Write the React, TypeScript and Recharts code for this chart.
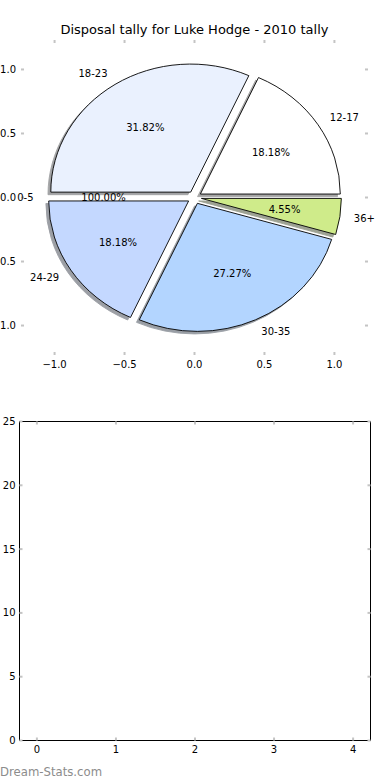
import React from 'react'
import { PieChart, Pie, ScatterChart, Scatter, XAxis, YAxis } from 'recharts'

const AGE_GROUPS = ['12-17', '18-23', '0-5', '24-29', '30-35', '36+']
const DISPOSALS = [4, 7, 0, 4, 6, 1]
const PCT_TEXT = ['18.18%', '31.82%', '100.00%', '18.18%', '27.27%', '4.55%']
const SLICE_COLORS = ['#ffffff', '#eaf1fe', '#dde8fd', '#c4d8ff', '#b3d5ff', '#cfeb8a']

const PIE_TICKS = [-1, -0.5, 0, 0.5, 1]
const SLOT_TICKS = [0, 1, 2, 3, 4]
const COUNT_TICKS = [0, 5, 10, 15, 20, 25]
// the lower panel has nothing plotted in it
const LOWER_POINTS: { x: number; y: number }[] = []

const FONT = '"DejaVu Sans", sans-serif'
const TICK_LINE = { stroke: '#c4c4c4', strokeWidth: 2 }
const TICK_TEXT = { fill: '#000', fontSize: 10, fontFamily: FONT }

// top (pie) axes box, in px
const BOX = { left: 21, top: 40, right: 368, bottom: 355 }
const XLIM = 1.24
const YLIM = 1.23
const RX = (BOX.right - BOX.left) / (2 * XLIM)
const RY = (BOX.bottom - BOX.top) / (2 * YLIM)
const CX = (BOX.left + BOX.right) / 2
const CY = (BOX.top + BOX.bottom) / 2
const EXPLODE = 0.05
const RAD = Math.PI / 180
const AX_H = 20

const pieData = AGE_GROUPS.map((name, i) => ({
  name,
  value: DISPOSALS[i],
  pct: PCT_TEXT[i],
  fill: SLICE_COLORS[i],
}))

const fmtPie = (v: number) => v.toFixed(1).replace('-', '\u2212')

function wedgePath(cx: number, cy: number, rx: number, ry: number, a0: number, a1: number) {
  const x0 = cx + rx * Math.cos(a0 * RAD)
  const y0 = cy - ry * Math.sin(a0 * RAD)
  const x1 = cx + rx * Math.cos(a1 * RAD)
  const y1 = cy - ry * Math.sin(a1 * RAD)
  const large = a1 - a0 > 180 ? 1 : 0
  return `M${cx},${cy} L${x0},${y0} A${rx},${ry} 0 ${large} 0 ${x1},${y1} Z`
}

function shift(props: any) {
  const rx = props.outerRadius
  const ry = (props.outerRadius * RY) / RX
  const mid = (props.startAngle + props.endAngle) / 2
  return {
    rx,
    ry,
    ox: props.cx + EXPLODE * rx * Math.cos(mid * RAD),
    oy: props.cy - EXPLODE * ry * Math.sin(mid * RAD),
  }
}

const Wedge = (props: any) => {
  if (Math.abs(props.endAngle - props.startAngle) < 1e-6) return <g />
  const { rx, ry, ox, oy } = shift(props)
  return (
    <path
      d={wedgePath(ox, oy, rx, ry, props.startAngle, props.endAngle)}
      fill={props.payload?.fill ?? props.fill}
      stroke="#000"
      strokeWidth={0.9}
    />
  )
}

function shade(hex: string) {
  const n = parseInt(hex.slice(1), 16)
  const r = Math.round(((n >> 16) & 255) * 0.3)
  const g = Math.round(((n >> 8) & 255) * 0.3)
  const b = Math.round((n & 255) * 0.3)
  return `rgb(${r},${g},${b})`
}

const ShadowWedge = (props: any) => {
  if (Math.abs(props.endAngle - props.startAngle) < 1e-6) return <g />
  const { rx, ry, ox, oy } = shift(props)
  const c = shade(props.payload?.fill ?? '#ffffff')
  return (
    <path
      d={wedgePath(ox - 0.02 * rx, oy + 0.02 * ry, rx, ry, props.startAngle, props.endAngle)}
      fill={c}
      stroke={c}
      strokeWidth={0.9}
      opacity={0.5}
    />
  )
}

const renderLabels = (props: any) => {
  const { cx, cy, midAngle, outerRadius, payload } = props
  const rx = outerRadius
  const ry = (outerRadius * RY) / RX
  const c = Math.cos(midAngle * RAD)
  const s = Math.sin(midAngle * RAD)
  const lx = cx + (1.1 + EXPLODE) * rx * c
  const ly = cy - (1.1 + EXPLODE) * ry * s
  const px = cx + (0.6 + EXPLODE) * rx * c
  const py = cy - (0.6 + EXPLODE) * ry * s
  return (
    <g>
      <text x={lx} y={ly} textAnchor={c > 0 ? 'start' : 'end'} dominantBaseline="central"
        fontSize={10} fontFamily={FONT} fill="#000">
        {payload.name}
      </text>
      <text x={px} y={py} textAnchor="middle" dominantBaseline="central"
        fontSize={10} fontFamily={FONT} fill="#000">
        {payload.pct}
      </text>
    </g>
  )
}

function PieAxes() {
  return (
    <ScatterChart
      width={390}
      height={380}
      margin={{ top: BOX.top - AX_H, right: 390 - BOX.right - 1, bottom: 380 - BOX.bottom - AX_H, left: BOX.left - 1 }}
    >
      <XAxis xAxisId="b" type="number" dataKey="x" orientation="bottom" domain={[-XLIM, XLIM]} ticks={PIE_TICKS}
        allowDataOverflow interval={0} height={AX_H} axisLine={false} tickLine={TICK_LINE}
        tickSize={-3} tickMargin={9} tick={TICK_TEXT} tickFormatter={fmtPie} />
      <XAxis xAxisId="t" type="number" dataKey="x" orientation="top" domain={[-XLIM, XLIM]} ticks={PIE_TICKS}
        allowDataOverflow interval={0} height={AX_H} axisLine={false} tickLine={TICK_LINE}
        tickSize={-3} tick={TICK_TEXT} tickFormatter={() => ''} />
      <YAxis yAxisId="l" type="number" dataKey="y" orientation="left" domain={[-YLIM, YLIM]} ticks={PIE_TICKS}
        allowDataOverflow interval={0} width={1} axisLine={false} tickLine={TICK_LINE}
        tickSize={-3} tickMargin={8} tick={TICK_TEXT} tickFormatter={fmtPie} />
      <YAxis yAxisId="r" type="number" dataKey="y" orientation="right" domain={[-YLIM, YLIM]} ticks={PIE_TICKS}
        allowDataOverflow interval={0} width={1} axisLine={false} tickLine={TICK_LINE}
        tickSize={-3} tick={TICK_TEXT} tickFormatter={() => ''} />
      <Scatter data={LOWER_POINTS} xAxisId="b" yAxisId="l" isAnimationActive={false} />
      <Scatter data={LOWER_POINTS} xAxisId="t" yAxisId="r" isAnimationActive={false} />
    </ScatterChart>
  )
}

function EmptyAxes() {
  const frame = { stroke: '#000', strokeWidth: 1 }
  return (
    <ScatterChart width={390} height={380} margin={{ top: 21.5 - AX_H, right: 18.5, bottom: 39.5 - AX_H, left: 18.5 }}>
      <XAxis xAxisId="b" type="number" dataKey="x" orientation="bottom" domain={[-0.22, 4.22]} ticks={SLOT_TICKS}
        allowDataOverflow interval={0} height={AX_H} axisLine={frame} tickLine={TICK_LINE}
        tickSize={-3} tickMargin={8} tick={TICK_TEXT} />
      <XAxis xAxisId="t" type="number" dataKey="x" orientation="top" domain={[-0.22, 4.22]} ticks={SLOT_TICKS}
        allowDataOverflow interval={0} height={AX_H} axisLine={frame} tickLine={TICK_LINE}
        tickSize={-3} tick={TICK_TEXT} tickFormatter={() => ''} />
      <YAxis yAxisId="l" type="number" dataKey="y" orientation="left" domain={[0, 25]} ticks={COUNT_TICKS}
        allowDataOverflow interval={0} width={1} axisLine={frame} tickLine={TICK_LINE}
        tickSize={-3} tickMargin={7} tick={TICK_TEXT} />
      <YAxis yAxisId="r" type="number" dataKey="y" orientation="right" domain={[0, 25]} ticks={COUNT_TICKS}
        allowDataOverflow interval={0} width={1} axisLine={frame} tickLine={TICK_LINE}
        tickSize={-3} tick={TICK_TEXT} tickFormatter={() => ''} />
      <Scatter data={LOWER_POINTS} xAxisId="b" yAxisId="l" isAnimationActive={false} />
      <Scatter data={LOWER_POINTS} xAxisId="t" yAxisId="r" isAnimationActive={false} />
    </ScatterChart>
  )
}

export default function App() {
  return (
    <div style={{ position: 'absolute', left: 0, top: 0, width: 390, height: 780, background: '#fff', overflow: 'hidden' }}>
      <div style={{ position: 'absolute', left: 0, top: 0 }}>
        <PieAxes />
      </div>
      <div style={{ position: 'absolute', left: 0, top: 0 }}>
        <PieChart width={390} height={380} margin={{ top: 0, right: 0, bottom: 0, left: 0 }}>
          <Pie data={pieData} dataKey="value" nameKey="name" cx={CX} cy={CY} innerRadius={0}
            outerRadius={RX} startAngle={0} endAngle={360} isAnimationActive={false}
            shape={ShadowWedge} activeShape={ShadowWedge} inactiveShape={ShadowWedge}
            label={false} labelLine={false} stroke="none" />
          <Pie data={pieData} dataKey="value" nameKey="name" cx={CX} cy={CY} innerRadius={0}
            outerRadius={RX} startAngle={0} endAngle={360} isAnimationActive={false}
            shape={Wedge} activeShape={Wedge} inactiveShape={Wedge}
            label={renderLabels} labelLine={false} stroke="#000" />
        </PieChart>
      </div>
      <div style={{ position: 'absolute', left: 0, top: 400 }}>
        <EmptyAxes />
      </div>
      <svg width={390} height={780} style={{ position: 'absolute', left: 0, top: 0, pointerEvents: 'none' }}>
        <text x={CX} y={34} textAnchor="middle" fontSize={13} fontFamily={FONT} fill="#000">
          Disposal tally for Luke Hodge - 2010 tally
        </text>
        <text x={0} y={775.5} fontSize={11.7} fontFamily={FONT} fill="#8c8c8c">
          Dream-Stats.com
        </text>
      </svg>
    </div>
  )
}
